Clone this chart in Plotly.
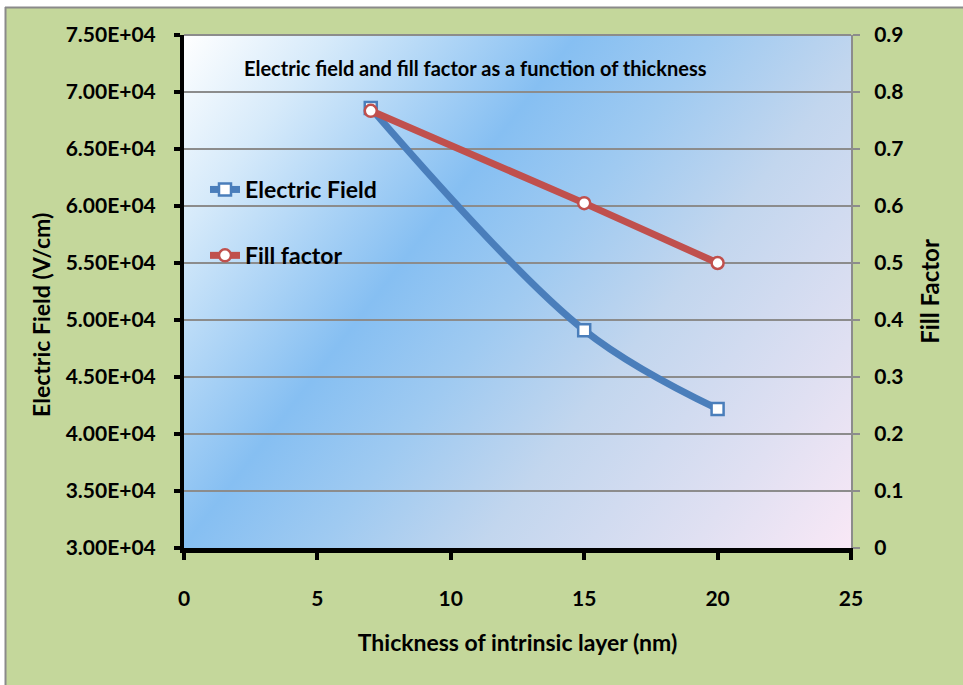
import base64
import plotly.graph_objects as go

# Data
thickness = [7, 15, 20]
electric_field = [6.86e4, 4.91e4, 4.22e4]
fill_factor = [0.767, 0.605, 0.50]

ef_tickvals = [3.0e4, 3.5e4, 4.0e4, 4.5e4, 5.0e4, 5.5e4, 6.0e4, 6.5e4, 7.0e4, 7.5e4]
ef_ticktext = ["3.00E+04", "3.50E+04", "4.00E+04", "4.50E+04", "5.00E+04",
               "5.50E+04", "6.00E+04", "6.50E+04", "7.00E+04", "7.50E+04"]
ff_tickvals = [0, 0.1, 0.2, 0.3, 0.4, 0.5, 0.6, 0.7, 0.8, 0.9]
ff_ticktext = ["0", "0.1", "0.2", "0.3", "0.4", "0.5", "0.6", "0.7", "0.8", "0.9"]
x_tickvals = [0, 5, 10, 15, 20, 25]

BLUE = "#4a7ebb"
RED = "#c0504d"
GREEN = "#c4d79b"
GRID = "#8c8c8c"
FONT = "Lato, 'Open Sans', sans-serif"

W, H = 963, 685
ML, MR, MT, MB = 184, 112, 35, 137
PW, PH = W - ML - MR, H - MT - MB

# Diagonal gradient for the plotting area
svg = f"""<svg xmlns='http://www.w3.org/2000/svg' width='{PW}' height='{PH}' viewBox='0 0 {PW} {PH}' preserveAspectRatio='none'>
<defs><linearGradient id='g' gradientUnits='userSpaceOnUse' x1='0' y1='0' x2='{PW}' y2='{PH}'>
<stop offset='0' stop-color='#ffffff'/>
<stop offset='0.14' stop-color='#d6eafa'/>
<stop offset='0.37' stop-color='#86bff2'/>
<stop offset='0.5' stop-color='#9fcaf1'/>
<stop offset='0.65' stop-color='#c2d6ee'/>
<stop offset='0.85' stop-color='#e0e0f2'/>
<stop offset='1' stop-color='#f9e8f6'/>
</linearGradient></defs>
<rect x='0' y='0' width='{PW}' height='{PH}' fill='url(#g)'/></svg>"""
bg_src = "data:image/svg+xml;base64," + base64.b64encode(svg.encode()).decode()


def px_x(p):
    return (p - ML) / PW


def px_y(p):
    return (H - MB - p) / PH


fig = go.Figure()

fig.add_trace(go.Scatter(
    x=thickness, y=electric_field, name="Electric Field",
    mode="lines+markers", legendgroup="ef",
    line=dict(color=BLUE, width=7, shape="spline", smoothing=1.0),
    marker=dict(symbol="square", size=12, color="white",
                line=dict(color=BLUE, width=2.5)),
))
fig.add_trace(go.Scatter(
    x=thickness, y=fill_factor, name="Fill factor", yaxis="y2",
    mode="lines+markers", legendgroup="ff",
    line=dict(color=RED, width=7),
    marker=dict(symbol="circle", size=12, color="white",
                line=dict(color=RED, width=2.5)),
))

fig.update_layout(
    width=W, height=H,
    margin=dict(l=ML, r=MR, t=MT, b=MB),
    paper_bgcolor=GREEN,
    plot_bgcolor="#a9d0f3",
    showlegend=True,
    legend=dict(
        x=px_x(205), y=px_y(168), xanchor="left", yanchor="top",
        bgcolor="rgba(0,0,0,0)", tracegroupgap=33,
        font=dict(family=FONT, size=23, color="black", weight="bold"),
        itemwidth=30,
    ),
    xaxis=dict(
        range=[0, 25], tickvals=x_tickvals, showgrid=False, zeroline=False,
        showline=True, linecolor="black", linewidth=5,
        ticks="outside", ticklen=7, tickwidth=4, tickcolor="black",
        ticklabelstandoff=21,
        tickfont=dict(family=FONT, size=21, color="black", weight="bold"),
        title=dict(text="Thickness of intrinsic layer (nm)", standoff=27,
                   font=dict(family=FONT, size=23, color="black", weight="bold")),
    ),
    yaxis=dict(
        range=[3.0e4, 7.5e4], tickvals=ef_tickvals, ticktext=ef_ticktext,
        showgrid=True, gridcolor=GRID, gridwidth=2, zeroline=False,
        showline=True, linecolor="black", linewidth=4,
        ticks="outside", ticklen=6, tickwidth=4, tickcolor="black",
        ticklabelstandoff=14,
        tickfont=dict(family=FONT, size=21, color="black", weight="bold"),
    ),
    yaxis2=dict(
        range=[0, 0.9], tickvals=ff_tickvals, ticktext=ff_ticktext,
        overlaying="y", side="right", showgrid=False, zeroline=False,
        showline=True, linecolor=GRID, linewidth=2,
        ticks="outside", ticklen=7, tickwidth=2, tickcolor=GRID,
        ticklabelstandoff=10,
        tickfont=dict(family=FONT, size=21, color="black", weight="bold"),
        title=dict(text="Fill Factor", standoff=20,
                   font=dict(family=FONT, size=24, color="black", weight="bold")),
    ),
    images=[dict(source=bg_src, xref="paper", yref="paper", x=0, y=1,
                 sizex=1, sizey=1, xanchor="left", yanchor="top",
                 sizing="stretch", layer="below")],
    annotations=[
        dict(text="Electric field and fill factor as a function of thickness",
             xref="paper", yref="paper", x=px_x(475), y=px_y(68),
             xanchor="center", yanchor="middle", showarrow=False,
             font=dict(family=FONT, size=20, color="black", weight="bold")),
        # left axis title, set lower than the axis centre
        dict(text="Electric Field (V/cm)", textangle=-90,
             xref="paper", yref="paper", x=px_x(41), y=px_y(315),
             xanchor="center", yanchor="middle", showarrow=False,
             font=dict(family=FONT, size=23, color="black", weight="bold")),
    ],
    shapes=[
        # top gridline at the axis maximum
        dict(type="line", xref="paper", yref="paper", x0=0, x1=1, y0=1, y1=1,
             line=dict(color=GRID, width=2), layer="below"),
        # white margin strips and gray frame of the chart area
        dict(type="rect", xref="paper", yref="paper",
             x0=px_x(-5), x1=px_x(W + 5), y0=px_y(-5), y1=px_y(7),
             fillcolor="white", line=dict(width=0)),
        dict(type="rect", xref="paper", yref="paper",
             x0=px_x(-5), x1=px_x(5), y0=px_y(-5), y1=px_y(H + 5),
             fillcolor="white", line=dict(width=0)),
        dict(type="line", xref="paper", yref="paper",
             x0=px_x(5), x1=px_x(W + 5), y0=px_y(7.5), y1=px_y(7.5),
             line=dict(color="#8a8a8a", width=2)),
        dict(type="line", xref="paper", yref="paper",
             x0=px_x(5.5), x1=px_x(5.5), y0=px_y(7), y1=px_y(H + 5),
             line=dict(color="#8a8a8a", width=2)),
    ],
)

fig.write_html("out.html")
